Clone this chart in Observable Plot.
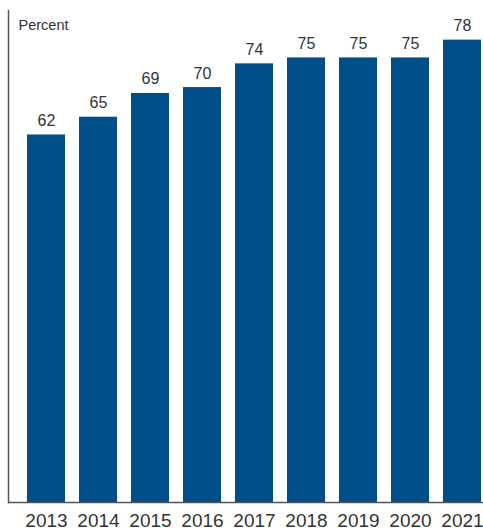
<!DOCTYPE html>
<html>
<head>
<meta charset="utf-8">
<script src="https://cdn.jsdelivr.net/npm/d3@7"></script>
<script src="https://cdn.jsdelivr.net/npm/@observablehq/plot@0.6"></script>
<style>
  html, body { margin: 0; padding: 0; background: #fff; }
  #chart svg { display: block; }
</style>
</head>
<body>
<div id="chart"></div>
<script>
const years = ["2013", "2014", "2015", "2016", "2017", "2018", "2019", "2020", "2021"];
const values = [62, 65, 69, 70, 74, 75, 75, 75, 78];
const yLabel = "Percent";

const data = years.map((y, i) => ({year: y, value: values[i]}));

const chart = Plot.plot({
  width: 483,
  height: 531,
  marginTop: 10,
  marginBottom: 29,
  marginLeft: 8,
  marginRight: 0,
  style: {fontFamily: "'Liberation Sans', Arial, sans-serif", color: "#333", background: "#fff"},
  x: {domain: years, paddingInner: 0.27, paddingOuter: 0.192, align: 0.9, label: null},
  y: {domain: [0, 83], axis: null},
  marks: [
    Plot.barY(data, {x: "year", y: "value", fill: "#004f8a"}),
    Plot.text(data, {x: "year", y: "value", text: d => String(d.value), lineAnchor: "bottom", dy: -9, fontSize: 16, fill: "#333"}),
    Plot.ruleY([0], {stroke: "#555", strokeWidth: 1.5}),
    Plot.frame({anchor: "left", stroke: "#555", strokeWidth: 1.5}),
    Plot.text([yLabel], {frameAnchor: "top-left", lineAnchor: "top", dx: 10, dy: 9, fontSize: 14.5, fill: "#333"}),
    Plot.axisX({tickSize: 0, tickPadding: 11, fontSize: 19, fill: "#333", label: null})
  ]
});
document.getElementById("chart").append(chart);
</script>
</body>
</html>
